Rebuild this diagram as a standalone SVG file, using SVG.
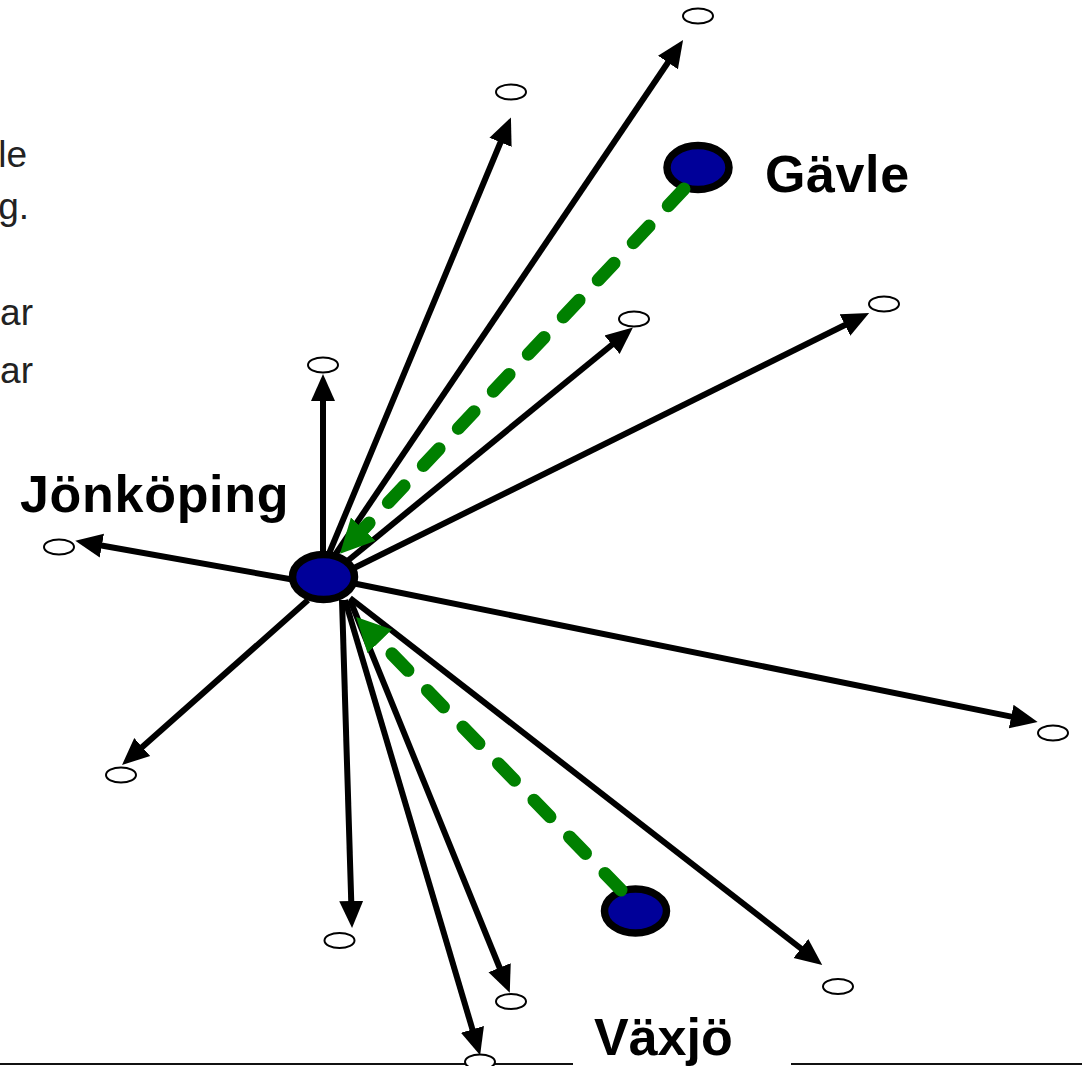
<svg xmlns="http://www.w3.org/2000/svg" width="1082" height="1066" viewBox="0 0 1082 1066">
<style>
.frag{font-family:"Liberation Sans",Arial,sans-serif;font-size:37px;fill:#222}
.lbl{font-family:"Liberation Sans",Arial,sans-serif;font-weight:bold;font-size:52px;fill:#000}
.pt{fill:#fff;stroke:#000;stroke-width:2}
.city{fill:#000099;stroke:#000;stroke-width:7.5}
.arr{stroke:#000;stroke-width:6;fill:none;marker-end:url(#ah)}
.gr{stroke:#008000;stroke-width:13;stroke-linecap:round;stroke-dasharray:23 28;fill:none;marker-end:url(#gh)}
.rule{stroke:#111;stroke-width:2}
</style>
<defs>
<marker id="ah" viewBox="0 -13 29 26" refX="9" refY="0" markerWidth="29" markerHeight="26" markerUnits="userSpaceOnUse" orient="auto"><path d="M0,-12 L27,0 L0,12 z" fill="#000"/></marker>
<marker id="gh" viewBox="0 -18 36 36" refX="4" refY="0" markerWidth="36" markerHeight="36" markerUnits="userSpaceOnUse" orient="auto"><path d="M0,-17 L34,0 L0,17 z" fill="#008000"/></marker>
</defs>
<rect width="1082" height="1066" fill="#fff"/>
<g id="baseline">
<line class="rule" x1="0" y1="1064" x2="573" y2="1064"/>
<line class="rule" x1="791" y1="1064" x2="1082" y2="1064"/>
</g>
<g id="text-fragments">
<text class="frag" x="27" y="167" text-anchor="end">le</text>
<text class="frag" x="29" y="219" text-anchor="end">g.</text>
<text class="frag" x="33" y="325" text-anchor="end">ar</text>
<text class="frag" x="33" y="383" text-anchor="end">ar</text>
</g>
<g id="p1"><ellipse class="pt" cx="698" cy="16" rx="15" ry="7.5"/></g>
<g id="p2"><ellipse class="pt" cx="511" cy="92" rx="15" ry="7.5"/></g>
<g id="p3"><ellipse class="pt" cx="884" cy="304" rx="15" ry="7.5"/></g>
<g id="p4"><ellipse class="pt" cx="634" cy="319" rx="15" ry="7.5"/></g>
<g id="p5"><ellipse class="pt" cx="323" cy="365" rx="15" ry="7.5"/></g>
<g id="p6"><ellipse class="pt" cx="59" cy="547" rx="15" ry="7.5"/></g>
<g id="p7"><ellipse class="pt" cx="121" cy="775" rx="15" ry="7.5"/></g>
<g id="p8"><ellipse class="pt" cx="1053" cy="733" rx="15" ry="7.5"/></g>
<g id="p9"><ellipse class="pt" cx="339.5" cy="940.5" rx="15" ry="7.5"/></g>
<g id="p10"><ellipse class="pt" cx="511" cy="1001.5" rx="15" ry="7.5"/></g>
<g id="p11"><ellipse class="pt" cx="838" cy="986.5" rx="15" ry="7.5"/></g>
<g id="p12"><ellipse class="pt" cx="480" cy="1062" rx="15" ry="7.5"/></g>
<g id="gavle">
<ellipse class="city" cx="698" cy="167.5" rx="31" ry="22"/>
<text class="lbl" x="765" y="192" font-size="53" letter-spacing="0.6">Gävle</text>
</g>
<g id="vaxjo">
<ellipse class="city" cx="635.5" cy="911" rx="31" ry="22"/>
<text class="lbl" x="594" y="1055">Växjö</text>
</g>
<g id="connectors">
<line class="arr" x1="335" y1="555" x2="673" y2="55"/>
<line class="arr" x1="328" y1="556" x2="504" y2="134"/>
<line class="arr" x1="350" y1="570" x2="853" y2="321"/>
<line class="arr" x1="345" y1="563" x2="619" y2="339"/>
<line class="arr" x1="323" y1="556" x2="323" y2="392"/>
<line class="arr" x1="295" y1="580" x2="93" y2="544"/>
<line class="arr" x1="308" y1="600" x2="135.5" y2="753"/>
<line class="arr" x1="352" y1="583" x2="1020" y2="718.4"/>
<line class="arr" x1="342" y1="600" x2="351.5" y2="910"/>
<line class="arr" x1="350" y1="600" x2="503" y2="976"/>
<line class="arr" x1="350" y1="598" x2="808" y2="954"/>
<line class="arr" x1="345" y1="600" x2="475" y2="1038"/>
<line class="gr" x1="684" y1="189" x2="360.6" y2="532"/>
<line class="gr" x1="621" y1="890" x2="377" y2="638.5"/>
</g>
<g id="jonkoping">
<ellipse class="city" cx="323.5" cy="577" rx="31" ry="22.5"/>
<text class="lbl" x="20" y="512" font-size="53.5" letter-spacing="0.7">Jönköping</text>
</g>
</svg>
